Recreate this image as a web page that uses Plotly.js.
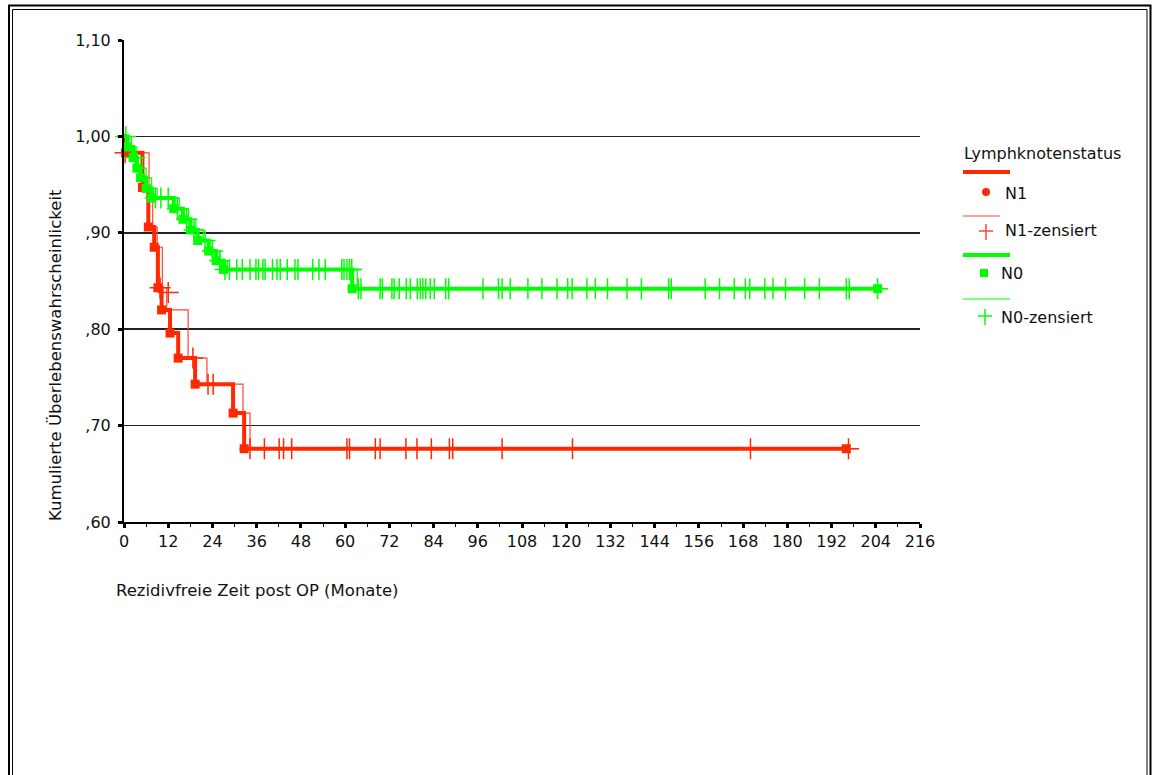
<!DOCTYPE html>
<html>
<head>
<meta charset="utf-8">
<script src="https://cdn.plot.ly/plotly-3.0.1.min.js"></script>
<style>
html,body{margin:0;padding:0;background:#fff;overflow:hidden;}
#chart{width:1154px;height:775px;}
</style>
</head>
<body>
<div id="chart"></div>
<script>
// ---------- DATA ----------
// N1: Kaplan-Meier step (thick line), times in months / cumulative survival
var n1Times = [0, 0.4, 5, 6.6, 8.2, 9.2, 10.2, 12.5, 14.7, 19.3, 29.6, 32.6, 196];
var n1Surv  = [1.0, 0.983, 0.947, 0.906, 0.885, 0.843, 0.820, 0.796, 0.770, 0.743, 0.713, 0.676, 0.676];
// N1-zensiert (thin line)
var n1ThinTimes = [0, 1.2, 6.8, 7.8, 9.0, 10.4, 11.6, 17.4, 22.5, 32.3, 34.2, 199];
var n1ThinSurv  = [1.0, 0.983, 0.947, 0.906, 0.885, 0.843, 0.820, 0.770, 0.743, 0.713, 0.676, 0.676];
// N1 censored observations
var n1CensTimes = [0.3, 9.8, 12.0, 18.7, 22.8, 24.2, 34.2, 38.1, 42.1, 43.3, 45.5, 60.5, 61.2, 68.2, 69.5,
                   76.5, 79.5, 83.4, 88.3, 89.2, 102.6, 121.7, 170.0, 196.6];
var n1CensSurv  = [0.983, 0.843, 0.838, 0.770, 0.743, 0.743, 0.676, 0.676, 0.676, 0.676, 0.676, 0.676, 0.676, 0.676, 0.676,
                   0.676, 0.676, 0.676, 0.676, 0.676, 0.676, 0.676, 0.676, 0.676];

// N0: Kaplan-Meier step (thick line)
var n0Times = [0, 1.0, 2.5, 3.5, 4.5, 6.0, 7.5, 13.5, 16.0, 18.0, 20.0, 23.0, 25.0, 27.0, 61.9, 204.5];
var n0Surv  = [1.0, 0.989, 0.978, 0.967, 0.957, 0.946, 0.936, 0.925, 0.914, 0.903, 0.892, 0.881, 0.871, 0.862, 0.842, 0.842];
// N0-zensiert (thin line)
var n0ThinTimes = [0, 2.0, 3.5, 5.0, 6.0, 7.5, 9.0, 15.0, 17.5, 19.5, 21.5, 24.0, 26.0, 28.0, 63.3, 207];
var n0ThinSurv  = [1.0, 0.989, 0.978, 0.967, 0.957, 0.946, 0.936, 0.925, 0.914, 0.903, 0.892, 0.881, 0.871, 0.862, 0.842, 0.842];
// N0 censored observations
var n0CensTimes = [0.5, 3.0, 8.5, 10.0, 12.0, 14.5, 17.0, 19.0, 22.0, 24.0, 26.0,
  27.4, 28.6, 30.6, 32.1, 34.2, 35.8, 36.5, 37.7, 38.3, 40.3, 41.5, 42.4, 44.3, 46.4, 47.2, 51.2, 52.9, 54.6, 59.1, 59.7, 60.5, 61.2, 61.8,
  63.6, 64.3, 69.5, 70.1, 72.7, 73.3, 74.7, 76.6, 77.7, 79.6, 80.4, 81.1, 81.9, 83.1, 84.2, 87.3, 88.1, 97.4, 101.6, 102.6, 104.8,
  109.6, 113.4, 117.5, 120.4, 121.6, 125.6, 127.9, 131.2, 136.5, 140.4, 147.8, 148.5, 157.7, 161.6, 165.6, 168.6, 169.8, 173.9,
  176.1, 179.5, 184.7, 188.7, 196.0, 196.8, 204.5];
var n0CensSurv = [1.0, 0.978, 0.936, 0.936, 0.936, 0.925, 0.914, 0.903, 0.892, 0.881, 0.871,
  0.862, 0.862, 0.862, 0.862, 0.862, 0.862, 0.862, 0.862, 0.862, 0.862, 0.862, 0.862, 0.862, 0.862, 0.862, 0.862, 0.862, 0.862, 0.862, 0.862, 0.862, 0.862, 0.862,
  0.842, 0.842, 0.842, 0.842, 0.842, 0.842, 0.842, 0.842, 0.842, 0.842, 0.842, 0.842, 0.842, 0.842, 0.842, 0.842, 0.842, 0.842, 0.842, 0.842, 0.842,
  0.842, 0.842, 0.842, 0.842, 0.842, 0.842, 0.842, 0.842, 0.842, 0.842, 0.842, 0.842, 0.842, 0.842, 0.842, 0.842, 0.842, 0.842,
  0.842, 0.842, 0.842, 0.842, 0.842, 0.842, 0.842];

var xTickVals = [0, 12, 24, 36, 48, 60, 72, 84, 96, 108, 120, 132, 144, 156, 168, 180, 192, 204, 216];
var xTickText = ["0", "12", "24", "36", "48", "60", "72", "84", "96", "108", "120", "132", "144", "156", "168", "180", "192", "204", "216"];
var yTickVals = [0.6, 0.7, 0.8, 0.9, 1.0, 1.1];
var yTickText = [",60", ",70", ",80", ",90", "1,00", "1,10"];

var legendTitle = "Lymphknotenstatus";
var legendLabels = ["N1", "N1-zensiert", "N0", "N0-zensiert"];

// ---------- STYLE ----------
var RED = "rgb(255,40,0)";
var RED_THIN = "rgb(255,70,50)";
var GREEN = "rgb(0,255,0)";
var FONT = "DejaVu Sans, sans-serif";

// event markers = thick-line points except the starting point
function eventPts(t, s) { return {x: t.slice(1), y: s.slice(1)}; }
var n1Ev = eventPts(n1Times, n1Surv);
var n0Ev = eventPts(n0Times, n0Surv);

var traces = [
  {x: n1ThinTimes, y: n1ThinSurv, mode: "lines", line: {shape: "hv", color: RED_THIN, width: 1.2}, hoverinfo: "skip", cliponaxis: false},
  {x: n1Times, y: n1Surv, mode: "lines", line: {shape: "hv", color: RED, width: 4}, hoverinfo: "skip", cliponaxis: false},
  {x: n1Ev.x, y: n1Ev.y, mode: "markers", marker: {symbol: "square", size: 9, color: RED}, cliponaxis: false},
  {x: n1CensTimes, y: n1CensSurv, mode: "markers", marker: {symbol: "cross-thin", size: 15, line: {color: RED, width: 1.5}}, cliponaxis: false},
  {x: n0ThinTimes, y: n0ThinSurv, mode: "lines", line: {shape: "hv", color: GREEN, width: 1.2}, hoverinfo: "skip", cliponaxis: false},
  {x: n0Times, y: n0Surv, mode: "lines", line: {shape: "hv", color: GREEN, width: 4}, hoverinfo: "skip", cliponaxis: false},
  {x: n0Ev.x, y: n0Ev.y, mode: "markers", marker: {symbol: "square", size: 9, color: GREEN}, cliponaxis: false},
  {x: n0CensTimes, y: n0CensSurv, mode: "markers", marker: {symbol: "cross-thin", size: 15, line: {color: GREEN, width: 1.5}}, cliponaxis: false}
];

// pixel -> paper helpers (plot area: x 124..920, y 40..522)
var L = 124, R = 920, T = 40, B = 522;
function px(x) { return (x - L) / (R - L); }
function py(y) { return (B - y) / (B - T); }

var shapes = [
  // double frame
  {type: "rect", xref: "paper", yref: "paper", x0: px(9), x1: px(1150.5), y0: py(800), y1: py(5.5), line: {color: "#000", width: 2}},
  {type: "rect", xref: "paper", yref: "paper", x0: px(12.5), x1: px(1147), y0: py(800), y1: py(9.5), line: {color: "#000", width: 1}},
  // legend symbols
  {type: "line", xref: "paper", yref: "paper", x0: px(963), x1: px(1010), y0: py(172), y1: py(172), line: {color: RED, width: 4}},
  {type: "circle", xref: "paper", yref: "paper", x0: px(982), x1: px(990), y0: py(196), y1: py(188), fillcolor: RED, line: {color: RED, width: 0}},
  {type: "line", xref: "paper", yref: "paper", x0: px(963), x1: px(1000), y0: py(216), y1: py(216), line: {color: RED_THIN, width: 1.2}},
  {type: "line", xref: "paper", yref: "paper", x0: px(979), x1: px(993), y0: py(231), y1: py(231), line: {color: RED_THIN, width: 1.5}},
  {type: "line", xref: "paper", yref: "paper", x0: px(986), x1: px(986), y0: py(224), y1: py(240), line: {color: RED_THIN, width: 1.5}},
  {type: "line", xref: "paper", yref: "paper", x0: px(963), x1: px(1010), y0: py(255), y1: py(255), line: {color: GREEN, width: 4}},
  {type: "rect", xref: "paper", yref: "paper", x0: px(980), x1: px(988), y0: py(277), y1: py(269), fillcolor: GREEN, line: {color: GREEN, width: 0}},
  {type: "line", xref: "paper", yref: "paper", x0: px(963), x1: px(1010), y0: py(299), y1: py(299), line: {color: GREEN, width: 1.2}},
  {type: "line", xref: "paper", yref: "paper", x0: px(978), x1: px(992), y0: py(316), y1: py(316), line: {color: GREEN, width: 1.5}},
  {type: "line", xref: "paper", yref: "paper", x0: px(985), x1: px(985), y0: py(309), y1: py(325), line: {color: GREEN, width: 1.5}}
];

var legFont = {family: FONT, size: 16, color: "#111"};
var titleFont = {family: FONT, size: 16.5, color: "#111"};
var annotations = [
  {xref: "paper", yref: "paper", x: px(962), y: py(153), xanchor: "left", yanchor: "middle", text: legendTitle, showarrow: false, font: legFont},
  {xref: "paper", yref: "paper", x: px(1003), y: py(193), xanchor: "left", yanchor: "middle", text: legendLabels[0], showarrow: false, font: legFont},
  {xref: "paper", yref: "paper", x: px(1003), y: py(230), xanchor: "left", yanchor: "middle", text: legendLabels[1], showarrow: false, font: legFont},
  {xref: "paper", yref: "paper", x: px(999), y: py(273), xanchor: "left", yanchor: "middle", text: legendLabels[2], showarrow: false, font: legFont},
  {xref: "paper", yref: "paper", x: px(999), y: py(317), xanchor: "left", yanchor: "middle", text: legendLabels[3], showarrow: false, font: legFont},
  {xref: "paper", yref: "paper", x: px(55), y: py(355), xanchor: "center", yanchor: "middle", textangle: -90,
   text: "Kumulierte Überlebenswahrscheinlickeit", showarrow: false, font: titleFont},
  {xref: "paper", yref: "paper", x: px(114), y: py(590), xanchor: "left", yanchor: "middle",
   text: "Rezidivfreie Zeit post OP (Monate)", showarrow: false, font: titleFont}
];

var layout = {
  width: 1154, height: 775,
  margin: {l: L, r: 1154 - R, t: T, b: 775 - B, pad: 0},
  paper_bgcolor: "#fff", plot_bgcolor: "#fff",
  showlegend: false,
  font: {family: FONT, size: 16, color: "#111"},
  xaxis: {
    range: [0, 216], tickmode: "array", tickvals: xTickVals, ticktext: xTickText,
    showgrid: false, zeroline: false, showline: true, linecolor: "#000", linewidth: 2,
    ticks: "outside", ticklen: 4, tickwidth: 3, tickcolor: "#000",
    minor: {dtick: 6, tick0: 0, ticks: "outside", ticklen: 3, tickwidth: 1, tickcolor: "#000", showgrid: false},
    tickfont: {family: FONT, size: 16, color: "#111"}, fixedrange: true
  },
  yaxis: {
    range: [0.6, 1.1], tickmode: "array", tickvals: yTickVals, ticktext: yTickText,
    showgrid: true, gridcolor: "#222", gridwidth: 1.5, zeroline: false,
    showline: true, linecolor: "#000", linewidth: 2,
    ticks: "outside", ticklen: 4, tickwidth: 3, tickcolor: "#000", ticklabelstandoff: 4,
    tickfont: {family: FONT, size: 16, color: "#111"}, fixedrange: true
  },
  shapes: shapes,
  annotations: annotations
};

Plotly.newPlot("chart", traces, layout, {displayModeBar: false, staticPlot: true});
</script>
</body>
</html>
